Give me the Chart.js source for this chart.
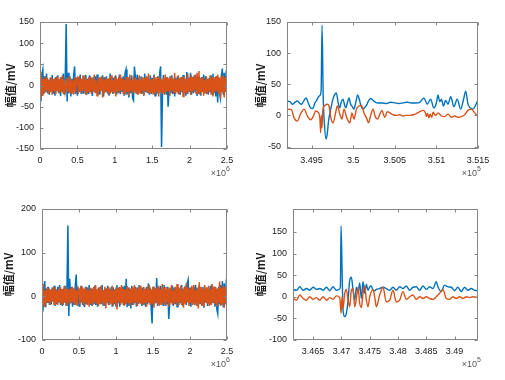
<!DOCTYPE html>
<html>
<head>
<meta charset="utf-8">
<script src="https://cdn.jsdelivr.net/npm/chart.js@4.4.1/dist/chart.umd.min.js"></script>
<style>
  html, body { margin: 0; padding: 0; background: #fff; }
  #fig { position: relative; width: 505px; height: 380px; overflow: hidden; }
  .panel { position: absolute; }
</style>
</head>
<body>
<div id="fig"></div>
<script>
// ---- data ----
// overview plots: one sample every overviewStep
const overviewStep = 12500;

const tlBlue = [
  10,-38,25,38,-20,22,-15,28,-18,12,
  -22,18,-10,25,-20,15,-24,20,-12,24,
  -18,14,-25,20,-16,28,-22,18,145,-38,
  30,-18,22,-26,16,-14,24,45,-20,18,
  -24,20,-15,26,-20,14,-18,22,-12,25,
  -22,16,-20,24,-16,18,-25,20,-14,22,
  -18,26,-20,15,-22,18,-12,24,-26,20,
  -15,22,-18,16,-24,28,-14,20,-20,18,
  -16,24,-22,14,-18,26,-20,18,-15,22,
  -24,30,38,-22,20,-28,16,-18,24,-30,
  -35,45,20,-18,26,-22,18,-15,22,-20,
  16,-24,28,-16,20,-18,14,-22,24,-20,
  18,-16,26,-24,15,-20,22,-18,30,45,
  -145,-20,25,-18,16,-22,20,-50,-15,22,
  -18,24,-20,16,-26,18,-14,22,-20,15,
  -22,20,-16,25,-18,14,-24,32,-20,18,
  -15,30,-22,20,-18,24,-16,18,-25,22,
  -20,16,-24,20,-14,26,-18,22,-20,15,
  -22,18,-16,24,-20,28,-18,16,-26,22,
  -40,20,-18,-30,24,40,-22,30,-15,26,
  18
];
const tlOrange = [
  32,-30,20,-25,15,-18,22,-12,18,-20,
  14,-16,20,-22,16,-12,18,-20,22,-14,
  16,-18,20,-15,24,-20,14,-16,-5,18,
  -14,22,-18,16,-20,12,-22,20,-16,14,
  18,-20,22,-14,16,-18,24,-12,20,-22,
  14,-18,20,-16,22,-20,16,-14,26,-18,
  12,-24,18,-16,20,-12,22,-28,14,-18,
  20,-14,16,-22,18,-20,24,-16,12,-18,
  22,-26,16,-14,20,-18,26,-12,18,-20,
  14,-22,20,-16,18,-24,26,-14,12,-18,
  22,-16,18,-20,14,-22,24,-18,16,-12,
  20,-24,18,-14,22,-16,28,-20,14,-18,
  16,-22,24,-18,20,-14,18,-26,22,-16,
  14,-20,18,-22,26,-16,20,-14,18,-24,
  22,-12,16,-18,30,-20,14,-16,24,-22,
  18,-14,20,-26,22,-18,16,-20,28,-14,
  18,-22,24,-16,20,-12,26,-20,30,-18,
  34,-22,18,-16,20,-24,14,-18,22,-20,
  16,-14,24,-22,18,-26,20,-16,22,-14,
  26,-20,18,-30,22,-16,24,-28,20,-14,
  16
];

const blBlue = [
  15,-35,20,35,-25,18,-15,22,-20,14,
  -18,20,-12,24,-22,16,-18,22,-14,26,
  -20,16,-22,18,-14,24,-20,18,162,-45,
  40,-16,22,-24,18,-20,26,50,-18,20,
  -22,18,-14,24,-20,16,-25,22,-18,20,
  -14,26,-20,18,-22,16,-18,24,-20,14,
  -24,20,-16,22,-18,26,-20,14,-22,18,
  -16,24,-20,18,-14,22,-24,20,-18,16,
  -22,26,-16,20,-24,18,-14,22,-20,24,
  -18,40,-25,20,-22,16,-28,24,-20,18,
  -16,22,-24,20,-18,26,-14,18,-22,20,
  -20,16,-24,22,-18,30,-16,20,-25,-62,
  22,-20,18,-16,42,-22,20,-18,24,-14,
  18,-22,26,-20,16,-18,22,-52,-20,18,
  -14,24,-22,20,-18,16,-24,22,-20,18,
  -16,26,-22,18,-14,24,-20,30,38,-18,
  20,-24,18,-16,22,-20,26,-14,18,-22,
  24,-18,16,-20,22,-26,18,-14,20,-22,
  16,-18,24,-20,28,-16,22,-24,18,-30,
  -40,22,-18,26,-20,35,-25,30,-18,24,
  10
];
const blOrange = [
  28,-22,18,-25,14,-16,22,-14,18,-20,
  16,-12,20,-18,22,-16,14,-20,18,-14,
  22,-18,16,-20,24,-14,18,-22,-10,16,
  -18,20,-14,22,-16,18,-20,14,-22,20,
  16,-18,24,-14,20,-22,18,-16,22,-20,
  14,-24,20,-16,18,-20,22,-14,26,-18,
  16,-22,20,-18,24,-16,14,-20,22,-28,
  18,-14,22,-20,16,-18,24,-22,14,-16,
  20,-30,18,-14,22,-20,26,-16,18,-22,
  16,-18,24,-14,20,-22,18,-16,22,-20,
  26,-14,18,-22,20,-16,24,-18,14,-20,
  22,-16,18,-24,20,-14,26,-20,16,-18,
  22,-26,18,-14,20,-18,24,-22,16,-20,
  28,-16,20,-18,22,-14,18,-24,20,-16,
  26,-20,14,-18,22,-16,28,-22,18,-14,
  24,-20,16,-26,22,-18,30,-14,20,-22,
  18,-16,24,-20,26,-18,14,-22,20,-28,
  32,-16,22,-20,18,-24,26,-14,20,-18,
  24,-22,16,-20,28,-14,22,-18,20,-24,
  18,-16,34,-22,20,-18,24,-26,22,-16,
  18
];

// zoomed plots
const trBlueX = [349200,349240,349270,349300,349330,349360,349380,349410,349435,349460,349490,349515,349540,349560,349585,349605,349615,349626,349640,349655,349675,349690,349705,349730,349755,349780,349798,349820,349838,349858,349877,349895,349910,349930,349950,349970,349990,350010,350030,350055,350075,350095,350115,350135,350160,350180,350210,350240,350270,350300,350350,350400,350450,350500,350550,350600,350650,350700,350750,350800,350850,350890,350930,350970,351000,351020,351040,351060,351085,351110,351140,351172,351210,351250,351292,351330,351352,351380,351410,351440,351470,351500];
const trBlue = [23,22,18,21,23,19,18,24,28,20,12,11,20,24,30,33,40,145,30,-15,-38,-28,-8,10,25,34,36,20,12,22,26,18,12,20,28,18,14,10,20,33,25,15,10,12,16,22,27,24,21,20,20,19,21,20,19,20,21,20,20,21,28,18,26,12,20,33,22,26,15,24,18,30,14,26,10,28,39,18,12,10,16,25];
const trOrangeX = [349200,349230,349260,349290,349330,349370,349410,349450,349490,349520,349550,349580,349600,349610,349618,349625,349635,349660,349690,349710,349735,349760,349790,349810,349840,349865,349890,349915,349930,349960,349985,350010,350040,350070,350100,350130,350160,350185,350210,350240,350265,350295,350320,350345,350380,350410,350440,350480,350520,350560,350600,350640,350680,350720,350760,350800,350840,350870,350880,350895,350910,350925,350945,350960,350990,351020,351060,351100,351140,351180,351220,351260,351300,351340,351380,351420,351460,351500];
const trOrange = [8,10,9,-4,-9,3,10,-1,-7,-2,7,5,-5,-28,0,-20,8,16,18,15,-6,-12,5,15,2,-6,10,0,-6,-12,4,-6,10,15,16,4,-4,-12,0,10,-2,-6,2,8,-3,6,4,1,0,1,-1,0,0,1,3,6,8,4,-2,3,-4,2,-3,5,0,4,-1,-2,2,-3,-1,-3,-2,1,8,10,4,-2];

const brBlueX = [346147,346206,346265,346324,346383,346441,346500,346559,346618,346677,346735,346794,346853,346912,346959,346982,346994,347012,347029,347059,347088,347118,347147,347176,347206,347235,347265,347294,347323,347353,347382,347412,347441,347470,347500,347529,347559,347588,347617,347676,347735,347794,347853,347911,347970,348029,348088,348147,348206,348264,348323,348382,348441,348500,348559,348617,348676,348705,348764,348823,348882,348940,348999,349058,349117,349176,349235,349294,349352,349411];
const brBlue = [17,15,23,15,19,15,22,17,19,15,22,14,23,15,17,23,164,60,-31,-46,-38,-8,38,45,15,-8,22,8,32,-4,35,8,29,15,23,25,15,14,17,19,22,19,15,22,15,23,19,25,15,22,23,15,25,17,23,19,35,23,12,27,23,22,14,22,12,22,15,19,15,14];
const brOrangeX = [346147,346206,346265,346324,346383,346441,346500,346559,346618,346677,346735,346794,346853,346912,346971,346994,347012,347029,347059,347088,347118,347147,347176,347206,347235,347265,347294,347323,347353,347382,347412,347441,347470,347500,347559,347588,347617,347676,347735,347794,347853,347911,347970,348029,348088,348147,348206,348264,348323,348382,348441,348500,348559,348617,348676,348735,348794,348852,348911,348970,349029,349088,349147,349206,349264,349323,349411];
const brOrange = [-4,-8,4,-4,-8,0,-6,-2,-8,0,-8,-2,-6,2,-2,-38,0,-27,8,17,-8,-23,15,19,-23,-4,22,-15,-25,8,25,-8,-23,0,17,0,-23,4,22,-12,-8,15,-12,-8,12,-6,0,4,-6,0,-4,0,-4,-6,0,8,17,-4,-6,0,-4,0,-4,0,-2,0,-2];

// tick labels
const overviewXTicks = [0, 500000, 1000000, 1500000, 2000000, 2500000];
const tlYTicks = [-150, -100, -50, 0, 50, 100, 150];
const blYTicks = [-100, 0, 100, 200];
const trXTicks = [349500, 350000, 350500, 351000, 351500];
const trYTicks = [-50, 0, 50, 100, 150];
const brXTicks = [346500, 347000, 347500, 348000, 348500, 349000];
const brYTicks = [-100, -50, 0, 50, 100, 150];

const yTitle = '幅值/mV';

// ---- drawing ----
const blue = '#0072BD';
const orange = '#D95319';
const tickFont = { family: '"Liberation Sans", Arial, sans-serif', size: 9 };

// MATLAB-like box with inward ticks plus the x10^n multiplier
const boxPlugin = {
  id: 'mbox',
  afterDraw(chart) {
    const { ctx, chartArea: a, scales } = chart;
    const o = chart.options.plugins.mbox;
    const L = Math.round(a.left) + 0.5, R = Math.round(a.right) - 0.5;
    const T = Math.round(a.top) + 0.5, B = Math.round(a.bottom) - 0.5;
    ctx.save();
    ctx.strokeStyle = '#868686';
    ctx.lineWidth = 1;
    ctx.strokeRect(L, T, R - L, B - T);
    ctx.beginPath();
    scales.x.ticks.forEach(t => {
      const px = Math.round(scales.x.getPixelForValue(t.value)) + 0.5;
      ctx.moveTo(px, B); ctx.lineTo(px, B - 3);
      ctx.moveTo(px, T); ctx.lineTo(px, T + 3);
    });
    scales.y.ticks.forEach(t => {
      const py = Math.round(scales.y.getPixelForValue(t.value)) + 0.5;
      ctx.moveTo(L, py); ctx.lineTo(L + 3, py);
      ctx.moveTo(R, py); ctx.lineTo(R - 3, py);
    });
    ctx.stroke();

    ctx.fillStyle = '#555555';
    ctx.textBaseline = 'alphabetic';
    ctx.textAlign = 'left';
    ctx.font = '7px "Liberation Sans", Arial, sans-serif';
    const supW = ctx.measureText(o.exp).width;
    ctx.font = '9px "Liberation Sans", Arial, sans-serif';
    const baseW = ctx.measureText('×10').width;
    const xEnd = a.right + 3, yb = a.bottom + 27;
    ctx.fillText('×10', xEnd - supW - baseW, yb);
    ctx.font = '7px "Liberation Sans", Arial, sans-serif';
    ctx.fillText(o.exp, xEnd - supW, yb - 5);
    ctx.restore();
  }
};

function fmt(v) { return String(+v.toFixed(4)); }

function addPanel(p) {
  const [pl, pt, pr, pb] = p.plot;
  const w = pr + 12 - p.cl, h = pb - pt + 50;
  const div = document.createElement('div');
  div.className = 'panel';
  div.style.left = p.cl + 'px';
  div.style.top = (pt - 10) + 'px';
  div.style.width = w + 'px';
  div.style.height = h + 'px';
  const canvas = document.createElement('canvas');
  canvas.width = w; canvas.height = h;
  div.appendChild(canvas);
  document.getElementById('fig').appendChild(div);
  const yW = pl - p.cl;

  new Chart(canvas, {
    type: 'line',
    data: {
      datasets: [
        { data: p.orange, borderColor: orange, borderWidth: p.lw, order: 0,
          pointRadius: 0, cubicInterpolationMode: p.smooth ? 'monotone' : 'default' },
        { data: p.blue, borderColor: blue, borderWidth: p.lw, order: 1,
          pointRadius: 0, cubicInterpolationMode: p.smooth ? 'monotone' : 'default' }
      ]
    },
    options: {
      responsive: false,
      animation: false,
      events: [],
      layout: { padding: { top: 10, right: 12, left: 0, bottom: 0 } },
      plugins: { legend: { display: false }, tooltip: { enabled: false }, mbox: { exp: p.exp } },
      scales: {
        x: {
          type: 'linear', min: p.xlim[0], max: p.xlim[1],
          afterBuildTicks: s => { s.ticks = p.xTicks.map(v => ({ value: v })); },
          ticks: { callback: v => fmt(v / p.xDiv), font: tickFont, color: '#1a1a1a',
                   padding: 6, maxRotation: 0, autoSkip: false },
          grid: { display: false, drawTicks: false }, border: { display: false },
          afterFit: s => { s.height = 40; s.paddingLeft = 0; s.paddingRight = 0; }
        },
        y: {
          type: 'linear', min: p.ylim[0], max: p.ylim[1],
          afterBuildTicks: s => { s.ticks = p.yTicks.map(v => ({ value: v })); },
          ticks: { callback: v => String(v), font: tickFont, color: '#1a1a1a', padding: 6 },
          grid: { display: false, drawTicks: false }, border: { display: false },
          title: { display: true, text: yTitle, color: '#1a1a1a',
                   font: { family: '"Noto Sans CJK SC", sans-serif', size: 11, weight: 'bold' },
                   padding: { top: 2, bottom: 0 } },
          afterFit: s => { s.width = yW; s.paddingTop = 0; s.paddingBottom = 0; }
        }
      }
    },
    plugins: [boxPlugin]
  });
}

const toOverview = ys => ys.map((y, i) => ({ x: i * overviewStep, y }));
const toXY = (xs, ys) => xs.map((x, i) => ({ x, y: ys[i] }));

addPanel({ cl: 2, plot: [40, 22, 227, 149], blue: toOverview(tlBlue), orange: toOverview(tlOrange),
  xlim: [0, 2500000], ylim: [-150, 150], xTicks: overviewXTicks, yTicks: tlYTicks,
  xDiv: 1e6, exp: '6', lw: 1.5, smooth: false });
addPanel({ cl: 252, plot: [287, 22, 478, 149], blue: toXY(trBlueX, trBlue), orange: toXY(trOrangeX, trOrange),
  xlim: [349205, 351500], ylim: [-54, 150], xTicks: trXTicks, yTicks: trYTicks,
  xDiv: 1e5, exp: '5', lw: 1.4, smooth: true });
addPanel({ cl: 0, plot: [42, 209, 227, 340], blue: toOverview(blBlue), orange: toOverview(blOrange),
  xlim: [0, 2500000], ylim: [-100, 200], xTicks: overviewXTicks, yTicks: blYTicks,
  xDiv: 1e6, exp: '6', lw: 1.5, smooth: false });
addPanel({ cl: 252, plot: [293, 209, 478, 340], blue: toXY(brBlueX, brBlue), orange: toXY(brOrangeX, brOrange),
  xlim: [346145, 349413], ylim: [-100, 203], xTicks: brXTicks, yTicks: brYTicks,
  xDiv: 1e5, exp: '5', lw: 1.4, smooth: true });
</script>
</body>
</html>
